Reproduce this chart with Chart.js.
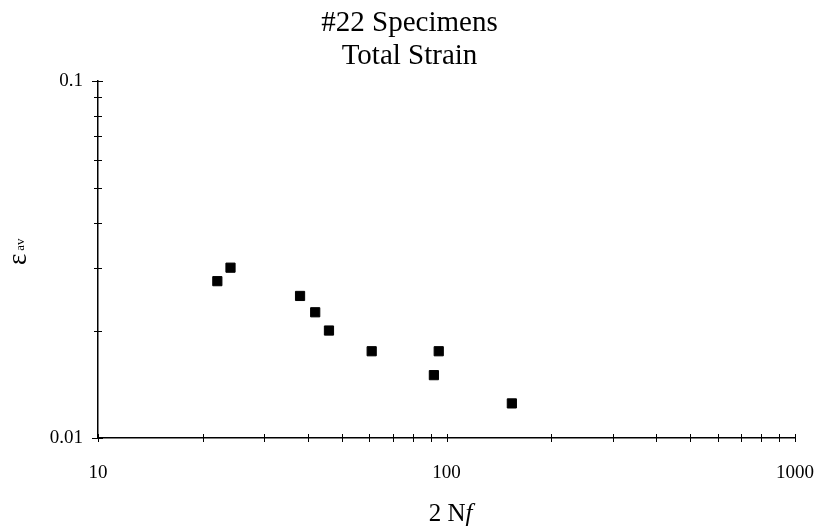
<!DOCTYPE html>
<html>
<head>
<meta charset="utf-8">
<title>#22 Specimens - Total Strain</title>
<script src="https://cdn.jsdelivr.net/npm/chart.js@4/dist/chart.umd.min.js"></script>
<style>
  body { margin: 0; background: #fff; }
  #strainCanvas { display: block; }
</style>
</head>
<body>
<canvas id="strainCanvas" width="819" height="529"></canvas>
<script>
// reversals to failure (2Nf) and average total strain for each specimen
var cycles = [22, 24, 38, 42, 46, 61, 92, 95, 154];
var strain = [0.0275, 0.03, 0.025, 0.0225, 0.02, 0.0175, 0.015, 0.0175, 0.0125];

// tick positions on the two log axes, only the decades get a label
var xTicks = [10, 20, 30, 40, 50, 60, 70, 80, 90, 100, 200, 300, 400, 500, 600, 700, 800, 900, 1000];
var xMajor = [10, 100, 1000];
var xMajorLabels = ['10', '100', '1000'];
var yTicks = [0.01, 0.02, 0.03, 0.04, 0.05, 0.06, 0.07, 0.08, 0.09, 0.1];
var yMajor = [0.01, 0.1];
var yMajorLabels = ['0.01', '0.1'];

var titleLines = ['#22 Specimens', 'Total Strain'];

var serif = "'Liberation Serif', 'Times New Roman', serif";

function majorLabel(value, majors, labels) {
    for (var i = 0; i < majors.length; i++) {
        if (Math.abs(value - majors[i]) / majors[i] < 1e-6) return labels[i];
    }
    return '';
}

// small ticks that cross the axis line, plus the two axis titles
var axisDecor = {
    id: 'axisDecor',
    afterDraw: function(chart) {
        var ctx = chart.ctx;
        var area = chart.chartArea;
        var xs = chart.scales.x;
        var ys = chart.scales.y;
        ctx.save();
        ctx.strokeStyle = '#000';
        ctx.lineWidth = 1;
        ctx.beginPath();
        xTicks.forEach(function(v) {
            var px = Math.round(xs.getPixelForValue(v)) + 0.5;
            ctx.moveTo(px, area.bottom - 4);
            ctx.lineTo(px, area.bottom + 4);
        });
        yTicks.forEach(function(v) {
            var py = Math.round(ys.getPixelForValue(v)) + 0.5;
            var isMajor = majorLabel(v, yMajor, yMajorLabels) !== '';
            ctx.moveTo(area.left - (isMajor ? 6 : 4), py);
            ctx.lineTo(area.left + (isMajor ? 5 : 4), py);
        });
        ctx.stroke();

        ctx.fillStyle = '#000';
        ctx.textBaseline = 'alphabetic';

        // x title: "2 N" upright, "f" in italics
        var xFont = '25px ' + serif;
        var xFontIt = 'italic 25px ' + serif;
        ctx.font = xFont;
        var w1 = ctx.measureText('2 N').width;
        ctx.font = xFontIt;
        var w2 = ctx.measureText('f').width;
        var cx = (area.left + area.right) / 2 + 4;
        var startX = cx - (w1 + w2) / 2;
        ctx.textAlign = 'left';
        ctx.font = xFont;
        ctx.fillText('2 N', startX, 521);
        ctx.font = xFontIt;
        ctx.fillText('f', startX + w1, 521);

        // y title: epsilon with a small "av", reading bottom to top
        ctx.translate(26, 265);
        ctx.rotate(-Math.PI / 2);
        ctx.font = '27px ' + serif;
        var we = ctx.measureText('\u03b5').width;
        ctx.fillText('\u03b5', 0, 0);
        ctx.font = '13px ' + serif;
        ctx.fillText('av', we + 3, -2);
        ctx.restore();
    }
};

var ctxStrain = document.getElementById('strainCanvas').getContext('2d');
var chartStrain = new Chart(ctxStrain, {
    type: 'scatter',
    data: {
        datasets: [{
            label: 'Total Strain',
            data: cycles.map(function(c, i) { return { x: c, y: strain[i] }; }),
            pointStyle: 'rect',
            radius: 6.5,
            hoverRadius: 6.5,
            backgroundColor: '#000',
            borderColor: '#000',
            borderWidth: 1
        }]
    },
    options: {
        responsive: false,
        animation: false,
        layout: { padding: 0 },
        plugins: {
            legend: { display: false },
            tooltip: { enabled: false },
            title: {
                display: true,
                text: titleLines,
                color: '#000',
                font: { family: serif, size: 29, weight: 'normal', lineHeight: 1.14 },
                padding: { top: 6.5, bottom: 8.4 }
            }
        },
        scales: {
            x: {
                type: 'logarithmic',
                min: 10,
                max: 1000,
                afterBuildTicks: function(scale) {
                    scale.ticks = xTicks.map(function(v) { return { value: v }; });
                },
                afterFit: function(scale) {
                    scale.height = 91;
                    // room on the right for the "1000" label, title stays centred on the canvas
                    scale.paddingLeft = 0;
                    scale.paddingRight = 24;
                },
                grid: { display: false, drawTicks: false },
                border: { display: true, color: '#000', width: 1.5 },
                ticks: {
                    autoSkip: false,
                    maxRotation: 0,
                    padding: 24,
                    color: '#000',
                    font: { family: serif, size: 19 },
                    callback: function(value) { return majorLabel(value, xMajor, xMajorLabels); }
                }
            },
            y: {
                type: 'logarithmic',
                min: 0.01,
                max: 0.1,
                afterBuildTicks: function(scale) {
                    scale.ticks = yTicks.map(function(v) { return { value: v }; });
                },
                afterFit: function(scale) { scale.width = 98; },
                grid: { display: false, drawTicks: false },
                border: { display: true, color: '#000', width: 1.5 },
                ticks: {
                    autoSkip: false,
                    padding: 15,
                    color: '#000',
                    font: { family: serif, size: 19 },
                    callback: function(value) { return majorLabel(value, yMajor, yMajorLabels); }
                }
            }
        }
    },
    plugins: [axisDecor]
});
</script>
</body>
</html>
